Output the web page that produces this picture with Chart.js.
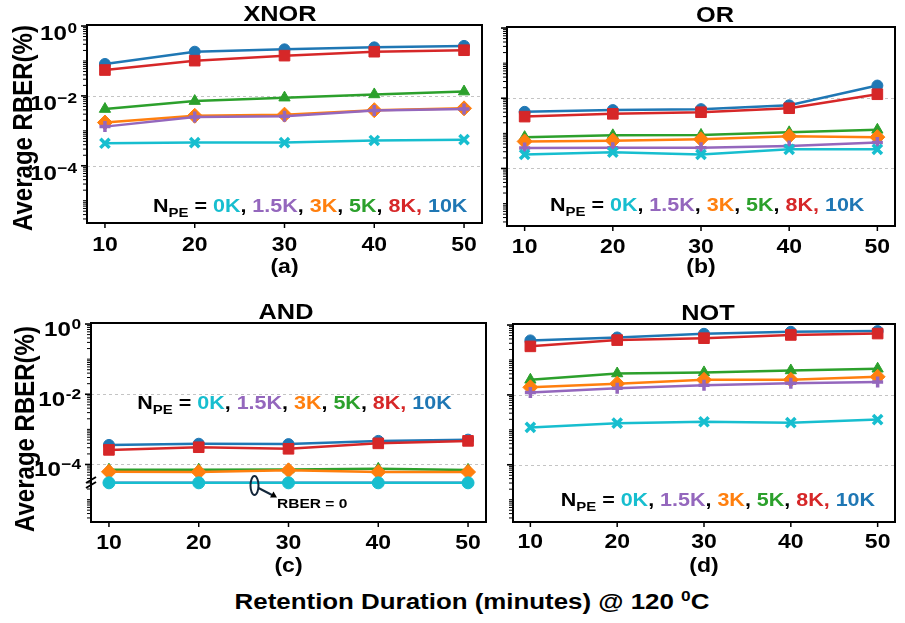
<!DOCTYPE html>
<html><head><meta charset="utf-8">
<script src="https://cdn.jsdelivr.net/npm/chart.js@4"></script>
<style>
body{margin:0;background:#fff;width:905px;height:623px;position:relative;overflow:hidden;font-family:"Liberation Sans",Arial,sans-serif;}
canvas{position:absolute;}
#xlabel{position:absolute;left:472px;top:590px;white-space:nowrap;font-weight:bold;font-size:22.5px;line-height:24px;color:#000;transform:translateX(-50%) scaleX(1.15);}
#xlabel sup{font-size:15px;vertical-align:0;position:relative;top:-8px;}
</style></head><body>
<canvas id="ca" width="495" height="290" style="left:0;top:0"></canvas>
<canvas id="cb" width="410" height="290" style="left:495px;top:0"></canvas>
<canvas id="cc" width="495" height="290" style="left:0;top:290px"></canvas>
<canvas id="cd" width="410" height="290" style="left:495px;top:290px"></canvas>
<div id="xlabel">Retention Duration (minutes) @ 120 <sup>0</sup>C</div>
<script>
// ---------------- data ----------------
const minutes = [10, 20, 30, 40, 50];
const npeLabels = ['0K', '1.5K', '3K', '5K', '8K', '10K'];
const panelTitles = ['XNOR', 'OR', 'AND', 'NOT'];
const panelLetters = ['(a)', '(b)', '(c)', '(d)'];
const yTickValues = [1, 1e-2, 1e-4];
const yTickExponents = ['0', '\u22122', '\u22124'];

// XNOR
const xnor_0K   = [0.00044, 0.00046, 0.00046, 0.00053, 0.00056];
const xnor_1_5K = [0.00132, 0.0025, 0.0026, 0.0038, 0.0042];
const xnor_3K   = [0.00173, 0.0027, 0.0029, 0.0039, 0.0044];
const xnor_5K   = [0.0042, 0.0071, 0.0089, 0.011, 0.0133];
const xnor_8K   = [0.055, 0.102, 0.142, 0.184, 0.203];
const xnor_10K  = [0.082, 0.184, 0.215, 0.245, 0.27];
// OR
const or_0K   = [0.00025, 0.00029, 0.00025, 0.00035, 0.00035];
const or_1_5K = [0.00038, 0.00039, 0.00039, 0.00044, 0.00055];
const or_3K   = [0.00059, 0.00062, 0.00068, 0.00083, 0.00078];
const or_5K   = [0.00078, 0.00088, 0.00090, 0.00107, 0.00126];
const or_8K   = [0.0030, 0.0036, 0.0040, 0.0052, 0.0130];
const or_10K  = [0.0041, 0.0046, 0.0049, 0.0063, 0.023];
// AND (RBER = 0 shown below the axis break)
const and_0K   = [3e-5, 3e-5, 3e-5, 3e-5, 3e-5];
const and_1_5K = [3e-5, 3e-5, 3e-5, 3e-5, 3e-5];
const and_3K   = [6.2e-5, 6.1e-5, 6.8e-5, 6.1e-5, 6.1e-5];
const and_5K   = [7.1e-5, 7.1e-5, 7.2e-5, 7.5e-5, 7.0e-5];
const and_8K   = [0.00026, 0.00031, 0.00028, 0.00040, 0.00047];
const and_10K  = [0.00036, 0.00039, 0.00038, 0.00047, 0.00051];
// NOT
const not_0K   = [0.00117, 0.00155, 0.0017, 0.0016, 0.00196];
const not_1_5K = [0.0118, 0.0155, 0.0188, 0.0215, 0.0235];
const not_3K   = [0.0165, 0.021, 0.027, 0.027, 0.033];
const not_5K   = [0.027, 0.041, 0.044, 0.050, 0.056];
const not_8K   = [0.245, 0.37, 0.42, 0.52, 0.57];
const not_10K  = [0.363, 0.44, 0.56, 0.64, 0.67];

// ---------------- styles ----------------
const COLORS = ['#17becf', '#9467bd', '#ff7f0e', '#2ca02c', '#d62728', '#1f77b4'];
const MARKERS = [
  {style: 'crossRot', r: 6.5, bw: 3.5},
  {style: 'cross', r: 5.5, bw: 3.5},
  {style: 'rectRot', r: 7.5, bw: 1},
  {style: 'triangle', r: 6.5, bw: 1},
  {style: 'rect', r: 7.5, bw: 1},
  {style: 'circle', r: 5.5, bw: 1}
];
const SX = 1.15;
const FONT = '"Liberation Sans", Arial, sans-serif';
const NPE_SIZE = 18.7;
const NPE_SUB = 13;

function sText(ctx, str, x, y, size, align, color) {
  ctx.save();
  ctx.font = 'bold ' + size + 'px ' + FONT;
  ctx.fillStyle = color || '#000';
  ctx.textBaseline = 'alphabetic';
  ctx.textAlign = 'left';
  const w = ctx.measureText(str).width * SX;
  const left = align === 'center' ? x - w / 2 : (align === 'right' ? x - w : x);
  ctx.translate(left, y);
  ctx.scale(SX, 1);
  ctx.fillText(str, 0, 0);
  ctx.restore();
  return w;
}
function sWidth(ctx, str, size) {
  ctx.save(); ctx.font = 'bold ' + size + 'px ' + FONT;
  const w = ctx.measureText(str).width * SX; ctx.restore(); return w;
}

function makeDatasets(series, markerOverride) {
  return series.map((vals, i) => {
    const m = (markerOverride && markerOverride[i]) || MARKERS[i];
    return {
      label: npeLabels[i],
      data: minutes.map((x, k) => ({x: x, y: vals[k]})),
      borderColor: COLORS[i],
      backgroundColor: COLORS[i],
      borderWidth: 2.5,
      pointStyle: m.style,
      pointRadius: m.r,
      pointBorderWidth: m.bw,
      pointBorderColor: COLORS[i],
      pointBackgroundColor: COLORS[i],
      tension: 0,
      clip: 8
    };
  });
}

function panelPlugin(p) {
  return {
    id: 'panel' + p.idx,
    beforeDatasetsDraw(chart) {
      const ctx = chart.ctx, a = chart.chartArea, y = chart.scales.y;
      ctx.save();
      ctx.strokeStyle = '#c4c4c4'; ctx.lineWidth = 1; ctx.setLineDash([3, 3]);
      [1e-2, 1e-4].forEach(v => {
        const py = Math.round(y.getPixelForValue(v)) + 0.5;
        ctx.beginPath(); ctx.moveTo(a.left, py); ctx.lineTo(a.right, py); ctx.stroke();
      });
      ctx.restore();
    },
    afterDatasetsDraw(chart) {
      const ctx = chart.ctx, a = chart.chartArea, xs = chart.scales.x, ys = chart.scales.y;
      const ox = p.ox, oy = p.oy;
      ctx.save();
      // frame
      ctx.strokeStyle = '#000'; ctx.lineWidth = 2;
      ctx.strokeRect(a.left, a.top, a.right - a.left, a.bottom - a.top);
      // y ticks (major + minor)
      for (let e = -6; e <= 0; e++) {
        for (let m = 1; m <= 9; m++) {
          const v = m * Math.pow(10, e);
          if (v < ys.min || v > ys.max) continue;
          const py = ys.getPixelForValue(v);
          const major = (m === 1 && e % 2 === 0);
          ctx.lineWidth = major ? 1.6 : 1;
          const len = major ? 5 : 3;
          ctx.beginPath(); ctx.moveTo(a.left - 1, py); ctx.lineTo(a.left - 1 - len, py); ctx.stroke();
        }
      }
      // x ticks
      ctx.lineWidth = 1.5;
      minutes.forEach(v => {
        const px = xs.getPixelForValue(v);
        ctx.beginPath(); ctx.moveTo(px, a.bottom + 1); ctx.lineTo(px, a.bottom + 5); ctx.stroke();
        sText(ctx, String(v), px, p.xTickBase - oy, 20, 'center');
      });
      // y tick labels
      if (p.yLabels) {
        yTickValues.forEach((v, i) => {
          const py = ys.getPixelForValue(v);
          const base = py + p.yLabOff;
          const exp = (p.idx === 2 && i === 1) ? '-2' : yTickExponents[i];
          const wExp = sWidth(ctx, exp, 15);
          const right = a.left - 10;
          sText(ctx, exp, right, base - 7, 15, 'right');
          sText(ctx, '10', right - wExp - 0.5, base, 21, 'right');
        });
        // y axis title
        ctx.save();
        ctx.translate(p.ylabX - ox, p.ylabY - oy);
        ctx.scale(SX, 1);
        ctx.rotate(-Math.PI / 2);
        ctx.font = 'bold 24px ' + FONT;
        ctx.fillStyle = '#000';
        ctx.textAlign = 'center'; ctx.textBaseline = 'middle';
        ctx.fillText('Average RBER(%)', 0, 0);
        ctx.restore();
      }
      // title and letter
      sText(ctx, panelTitles[p.idx], p.titleX - ox, p.titleBase - oy, 22, 'center');
      sText(ctx, panelLetters[p.idx], (a.left + a.right) / 2, p.letterBase - oy, 20, 'center');
      // N_PE annotation
      let x = p.npeX - ox;
      const by = p.npeBase - oy;
      const S = NPE_SIZE;
      const segs = [
        ['N', '#000', S, 0], ['PE', '#000', NPE_SUB, 5], [' = ', '#000', S, 0],
        [npeLabels[0], COLORS[0], S, 0], [', ', '#000', S, 0],
        [npeLabels[1], COLORS[1], S, 0], [', ', '#000', S, 0],
        [npeLabels[2], COLORS[2], S, 0], [', ', '#000', S, 0],
        [npeLabels[3], COLORS[3], S, 0], [', ', '#000', S, 0],
        [npeLabels[4] + ',', COLORS[4], S, 0], [' ', '#000', S, 0],
        [npeLabels[5], COLORS[5], S, 0]
      ];
      segs.forEach(s => { x += sText(ctx, s[0], x, by + s[3], s[2], 'left', s[1]); });
      // AND extras: axis break and RBER = 0 note
      if (p.idx === 2) {
        ctx.strokeStyle = '#000'; ctx.lineWidth = 2;
        [[86, 483, 96, 477], [86, 488, 96, 482]].forEach(l => {
          ctx.beginPath(); ctx.moveTo(l[0] - ox, l[1] - oy); ctx.lineTo(l[2] - ox, l[3] - oy); ctx.stroke();
        });
        ctx.strokeStyle = '#13263a'; ctx.lineWidth = 2;
        ctx.beginPath(); ctx.ellipse(254.5 - ox, 485.5 - oy, 4, 9.5, 0, 0, Math.PI * 2); ctx.stroke();
        ctx.beginPath(); ctx.moveTo(258.5 - ox, 488 - oy); ctx.lineTo(273 - ox, 495.5 - oy); ctx.stroke();
        ctx.fillStyle = '#000';
        ctx.beginPath();
        ctx.moveTo(277 - ox, 497.5 - oy); ctx.lineTo(270 - ox, 497.5 - oy); ctx.lineTo(273.5 - ox, 491.5 - oy);
        ctx.closePath(); ctx.fill();
        sText(ctx, 'RBER = 0', 277, 508 - oy, 13.5, 'left');
      }
      ctx.restore();
    }
  };
}

const panels = [
  {idx: 0, id: 'ca', ox: 0, oy: 0, w: 495, h: 290, L: 87, T: 25, R: 482, B: 223,
   series: [xnor_0K, xnor_1_5K, xnor_3K, xnor_5K, xnor_8K, xnor_10K],
   yLabels: true, yLabOff: 14, ylabX: 24, ylabY: 128,
   titleX: 280, titleBase: 20.7, xTickBase: 250.7, letterBase: 272.5, npeX: 153, npeBase: 211.7},
  {idx: 1, id: 'cb', ox: 495, oy: 0, w: 410, h: 290, L: 507, T: 27, R: 904, B: 226,
   series: [or_0K, or_1_5K, or_3K, or_5K, or_8K, or_10K],
   yLabels: false, titleX: 715, titleBase: 21.7, xTickBase: 253.3, letterBase: 273, npeX: 550, npeBase: 210.5},
  {idx: 2, id: 'cc', ox: 0, oy: 290, w: 495, h: 290, L: 91, T: 323, R: 489, B: 522,
   series: [and_0K, and_1_5K, and_3K, and_5K, and_8K, and_10K],
   markers: [{style: 'circle', r: 6, bw: 1}],
   yLabels: true, yLabOff: 12, ylabX: 26, ylabY: 429,
   titleX: 286, titleBase: 319.3, xTickBase: 549.3, letterBase: 572, npeX: 137.3, npeBase: 408.7},
  {idx: 3, id: 'cd', ox: 495, oy: 290, w: 410, h: 290, L: 513, T: 324, R: 904, B: 522,
   series: [not_0K, not_1_5K, not_3K, not_5K, not_8K, not_10K],
   yLabels: false, titleX: 708, titleBase: 320, xTickBase: 548.3, letterBase: 571.5, npeX: 560.7, npeBase: 506.2}
];

panels.forEach(p => {
  new Chart(document.getElementById(p.id), {
    type: 'line',
    data: {datasets: makeDatasets(p.series, p.markers)},
    options: {
      responsive: false, animation: false, events: [],
      layout: {padding: {left: p.L - p.ox, top: p.T - p.oy, right: p.ox + p.w - p.R, bottom: p.oy + p.h - p.B}},
      plugins: {legend: {display: false}, tooltip: {enabled: false}, title: {display: false}},
      scales: {
        x: {type: 'linear', display: false, min: 8, max: 52},
        y: {type: 'logarithmic', display: false, min: 2.3e-6, max: 1.07, bounds: 'data'}
      }
    },
    plugins: [panelPlugin(p)]
  });
});
</script>
</body></html>
